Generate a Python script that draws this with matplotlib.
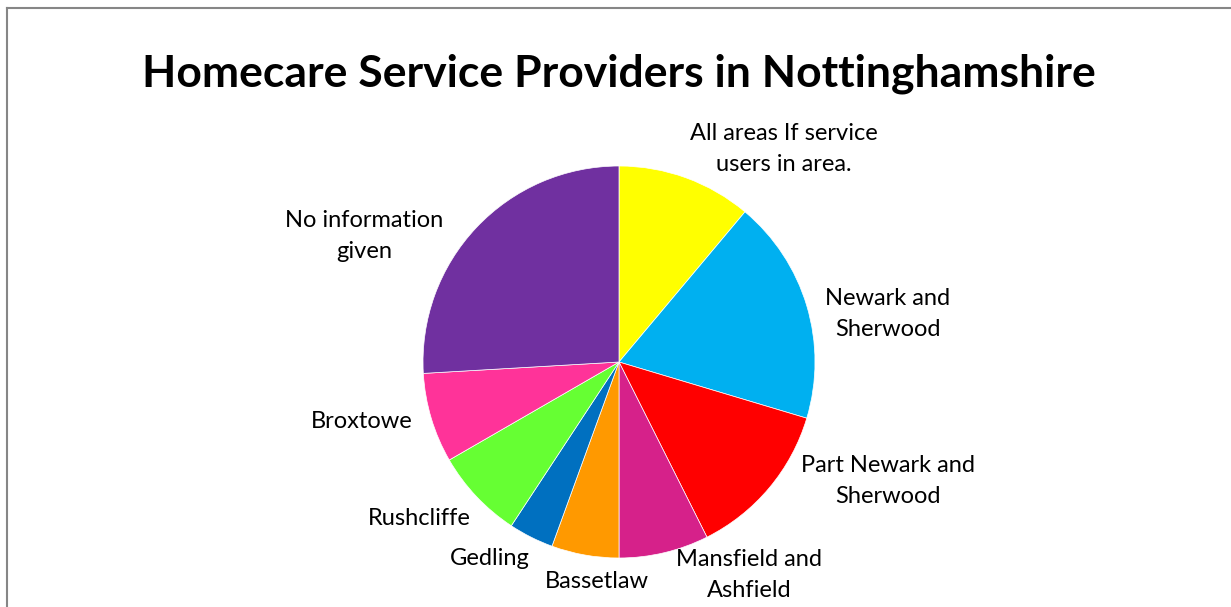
import matplotlib.pyplot as plt
from matplotlib.lines import Line2D

areas = ['All areas If service\nusers in area.', 'Newark and\nSherwood', 'Part Newark and\nSherwood',
         'Mansfield and\nAshfield', 'Bassetlaw', 'Gedling', 'Rushcliffe', 'Broxtowe',
         'No information\ngiven']
providers = [6, 10, 7, 4, 3, 2, 4, 4, 14]
colors = ['#FFFF00', '#00B0F0', '#FF0000', '#D6218A', '#FF9900', '#0070C0', '#66FF33', '#FF3399', '#7030A0']

# label centres in units of pie radius (Excel best-fit placement)
label_pos = [(0.842, 1.087), (1.372, 0.245), (1.372, -0.607), (0.663, -1.087), (-0.112, -1.122),
             (-0.658, -1.005), (-1.020, -0.796), (-1.311, -0.306), (-1.301, 0.643)]

W, H = 1231, 607
fig = plt.figure(figsize=(W / 100, H / 100), dpi=100)

# chart-area border (cropped on right and bottom)
fig.add_artist(Line2D([7 / W, 1], [1 - 8 / H, 1 - 8 / H], color='#868686', lw=1.5, transform=fig.transFigure))
fig.add_artist(Line2D([7 / W, 7 / W], [0, 1 - 8 / H], color='#868686', lw=1.5, transform=fig.transFigure))

cx, cy, r = 619, 362, 196
ax = fig.add_axes([(cx - r) / W, (H - cy - r) / H, 2 * r / W, 2 * r / H])
ax.pie(providers, colors=colors, startangle=90, counterclock=False, radius=1,
       wedgeprops={'linewidth': 0.5, 'edgecolor': 'white'})
ax.set_xlim(-1, 1)
ax.set_ylim(-1, 1)
ax.set_aspect('equal')
ax.axis('off')

for lab, (x, y) in zip(areas, label_pos):
    ax.text(x, y, lab, ha='center', va='center', fontsize=17, family='Lato',
            linespacing=1.6, clip_on=False)

fig.text(619 / W, 1 - 74 / H, 'Homecare Service Providers in Nottinghamshire', ha='center', va='center',
         fontsize=32, fontweight='bold', family='Lato')

fig.savefig('out.png', dpi=100)
